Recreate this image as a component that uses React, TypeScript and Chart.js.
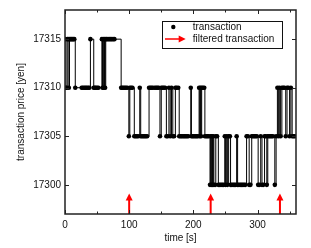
import React, { useEffect, useRef } from "react";
import { Chart, registerables } from "chart.js";
Chart.register(...registerables);

// transaction times [s]
const times = [
  0.5, 1.5, 2.5, 3.5, 5, 6, 7, 8.5, 10, 11.5, 13, 14.5, 16,
  26, 28, 30, 32, 34, 36, 38, 39.6, 44.8, 46.5, 48, 50, 52,
  57.5, 58.5, 59.5, 60.5, 61.5, 62.5, 63.5, 65, 67, 69, 71, 73, 75, 77,
  87.5, 89, 91, 93, 95, 97, 99.5, 101, 103, 105, 108, 110, 112, 114, 116.5,
  118, 120, 122, 124, 126, 128, 131, 133, 135, 137, 140, 142, 144, 146, 148,
  150, 152, 154, 156, 158, 160, 162, 164, 166, 168, 170, 172, 174, 176.5,
  178, 180, 182, 184, 186, 188, 190, 192, 196, 197, 199, 201, 203, 205, 207,
  209, 210, 211, 212, 213, 215, 217, 218, 220, 222, 224,
  226, 227, 228, 229, 230, 231, 232, 234, 235, 237, 239, 241, 243, 245, 247,
  249, 250, 252, 253, 255, 257, 258, 260, 262, 264, 266, 267.5, 269, 271, 273,
  275, 277, 279, 281, 283, 285, 287, 289, 291, 293, 295, 297, 299, 301, 303,
  305, 307, 309, 311, 313, 314.5, 316, 318, 320, 322, 324, 327, 329, 331,
  332.5, 334, 336, 338, 340, 342, 344, 346, 348, 350, 352, 354, 356, 358,
];
// transaction prices [yen]
const prices = [
  17315, 17310, 17310, 17315, 17315, 17310, 17315, 17315, 17315, 17315, 17315, 17315, 17310,
  17310, 17310, 17310, 17310, 17310, 17310, 17310, 17315, 17310, 17310, 17310, 17310, 17310,
  17315, 17310, 17315, 17310, 17315, 17310, 17315, 17315, 17315, 17315, 17315, 17315, 17315, 17315,
  17310, 17310, 17310, 17310, 17310, 17310, 17305, 17310, 17310, 17310, 17305, 17305, 17305, 17305, 17310,
  17305, 17305, 17305, 17305, 17305, 17305, 17310, 17310, 17310, 17310, 17310, 17310, 17310, 17310, 17305,
  17310, 17310, 17310, 17310, 17305, 17305, 17310, 17305, 17310, 17305, 17305, 17310, 17310, 17310,
  17305, 17305, 17305, 17305, 17305, 17305, 17305, 17305, 17310, 17305, 17305, 17305, 17305, 17305, 17305,
  17310, 17305, 17310, 17305, 17310, 17310, 17310, 17305, 17305, 17305, 17305,
  17300, 17305, 17300, 17305, 17300, 17305, 17300, 17300, 17305, 17305, 17300, 17300, 17300, 17300, 17300,
  17305, 17300, 17305, 17300, 17305, 17305, 17300, 17300, 17300, 17300, 17300, 17305, 17300, 17300, 17300,
  17300, 17300, 17300, 17300, 17305, 17305, 17300, 17300, 17305, 17305, 17305, 17305, 17305, 17300, 17300,
  17305, 17300, 17300, 17305, 17305, 17300, 17305, 17305, 17305, 17305, 17305, 17300, 17305, 17310,
  17305, 17310, 17305, 17310, 17310, 17310, 17305, 17310, 17310, 17305, 17310, 17305, 17305, 17305,
];

const xTicks = [0, 100, 200, 300];
const xMinorTicks = [50, 150, 250, 350];
const yTicks = [17300, 17305, 17310, 17315];
const arrowTimes = [100, 227, 335];
const arrowFrom = 17297;
const arrowTo = 17299.1;
const legendLabels = ["transaction", "filtered transaction"];
const xTitle = "time [s]";
const yTitle = "transaction price [yen]";

const FONT = "'Liberation Sans', Arial, sans-serif";

export default function App() {
  const ref = useRef<HTMLCanvasElement>(null);
  useEffect(() => {
    const canvas = ref.current!;
    const deco = {
      id: "deco",
      afterDatasetsDraw(chart: any) {
        const { ctx, chartArea: a, scales } = chart;
        const x = scales.x;
        const y = scales.y;
        ctx.save();
        // red arrows
        ctx.fillStyle = "#ff0000";
        ctx.strokeStyle = "#ff0000";
        for (const t of arrowTimes) {
          const px = x.getPixelForValue(t);
          const yb = y.getPixelForValue(arrowFrom);
          const yt = y.getPixelForValue(arrowTo);
          ctx.lineWidth = 2;
          ctx.beginPath();
          ctx.moveTo(px, yb);
          ctx.lineTo(px, yt + 6);
          ctx.stroke();
          ctx.beginPath();
          ctx.moveTo(px, yt);
          ctx.lineTo(px - 3.5, yt + 7);
          ctx.lineTo(px + 3.5, yt + 7);
          ctx.closePath();
          ctx.fill();
        }
        // ticks (inward, all sides)
        ctx.strokeStyle = "#222";
        ctx.lineWidth = 1;
        const vt = (px: number, len: number) => {
          ctx.beginPath();
          ctx.moveTo(px, a.bottom);
          ctx.lineTo(px, a.bottom - len);
          ctx.moveTo(px, a.top);
          ctx.lineTo(px, a.top + len);
          ctx.stroke();
        };
        xTicks.forEach((v) => vt(Math.round(x.getPixelForValue(v)) + 0.5, 4));
        xMinorTicks.forEach((v) => vt(Math.round(x.getPixelForValue(v)) + 0.5, 2.5));
        yTicks.forEach((v) => {
          const py = Math.round(y.getPixelForValue(v)) + 0.5;
          ctx.beginPath();
          ctx.moveTo(a.left, py);
          ctx.lineTo(a.left + 4, py);
          ctx.moveTo(a.right, py);
          ctx.lineTo(a.right - 4, py);
          ctx.stroke();
        });
        // frame
        ctx.strokeStyle = "#222";
        ctx.lineWidth = 1.5;
        ctx.strokeRect(a.left, a.top, a.width, a.height);
        // legend
        const lx = a.right - 134.3;
        const ly = a.top + 11;
        ctx.fillStyle = "#fff";
        ctx.fillRect(lx, ly, 120.6, 27.3);
        ctx.strokeStyle = "#111";
        ctx.lineWidth = 1;
        ctx.strokeRect(Math.round(lx) + 0.5, Math.round(ly) + 0.5, 120, 27);
        ctx.fillStyle = "#000";
        ctx.beginPath();
        ctx.arc(lx + 11.6, ly + 6, 2.2, 0, Math.PI * 2);
        ctx.fill();
        ctx.strokeStyle = "#ff0000";
        ctx.fillStyle = "#ff0000";
        ctx.lineWidth = 1.5;
        ctx.beginPath();
        ctx.moveTo(lx + 3.3, ly + 18);
        ctx.lineTo(lx + 18, ly + 18);
        ctx.stroke();
        ctx.beginPath();
        ctx.moveTo(lx + 24, ly + 18);
        ctx.lineTo(lx + 17, ly + 14.5);
        ctx.lineTo(lx + 17, ly + 21.5);
        ctx.closePath();
        ctx.fill();
        ctx.fillStyle = "#111";
        ctx.font = `10px ${FONT}`;
        ctx.textBaseline = "middle";
        ctx.textAlign = "left";
        ctx.fillText(legendLabels[0], lx + 31, ly + 6);
        ctx.fillText(legendLabels[1], lx + 31, ly + 18);
        ctx.restore();
      },
    };

    const chart = new Chart(canvas, {
      type: "line",
      data: {
        datasets: [
          {
            label: legendLabels[0],
            data: times.map((t, i) => ({ x: t, y: prices[i] })),
            stepped: true,
            borderColor: "#000",
            borderWidth: 1,
            pointRadius: 2.3,
            pointBackgroundColor: "#000",
            pointBorderWidth: 0,
            fill: false,
          },
        ],
      },
      options: {
        responsive: false,
        animation: false,
        layout: { padding: { top: 5, right: 15, left: 0, bottom: 0 } },
        plugins: { legend: { display: false }, tooltip: { enabled: false } },
        scales: {
          x: {
            type: "linear",
            min: 0,
            max: 360,
            afterBuildTicks: (s: any) => {
              s.ticks = xTicks.map((v) => ({ value: v }));
            },
            afterFit: (s: any) => {
              s.height = 34;
            },
            grid: { display: false, drawTicks: false },
            border: { display: false },
            ticks: {
              padding: 5,
              color: "#111",
              font: { family: FONT, size: 10 },
              maxRotation: 0,
              callback: (v: any) => String(v),
            },
            title: {
              display: true,
              text: xTitle,
              color: "#111",
              font: { family: FONT, size: 10 },
              padding: { top: 0, bottom: 4 },
            },
          },
          y: {
            type: "linear",
            min: 17297,
            max: 17318,
            afterBuildTicks: (s: any) => {
              s.ticks = yTicks.map((v) => ({ value: v }));
            },
            afterFit: (s: any) => {
              s.width = 65;
            },
            grid: { display: false, drawTicks: false },
            border: { display: false },
            ticks: {
              padding: 4,
              color: "#111",
              font: { family: FONT, size: 10 },
              callback: (v: any) => String(v),
            },
            title: {
              display: true,
              text: yTitle,
              color: "#111",
              font: { family: FONT, size: 10 },
              padding: { top: 15, bottom: 0 },
            },
          },
        },
      },
      plugins: [deco],
    });
    return () => chart.destroy();
  }, []);

  return (
    <div style={{ position: "absolute", left: 0, top: 0, width: 311, height: 248 }}>
      <canvas ref={ref} width={311} height={248} style={{ width: 311, height: 248 }} />
    </div>
  );
}
